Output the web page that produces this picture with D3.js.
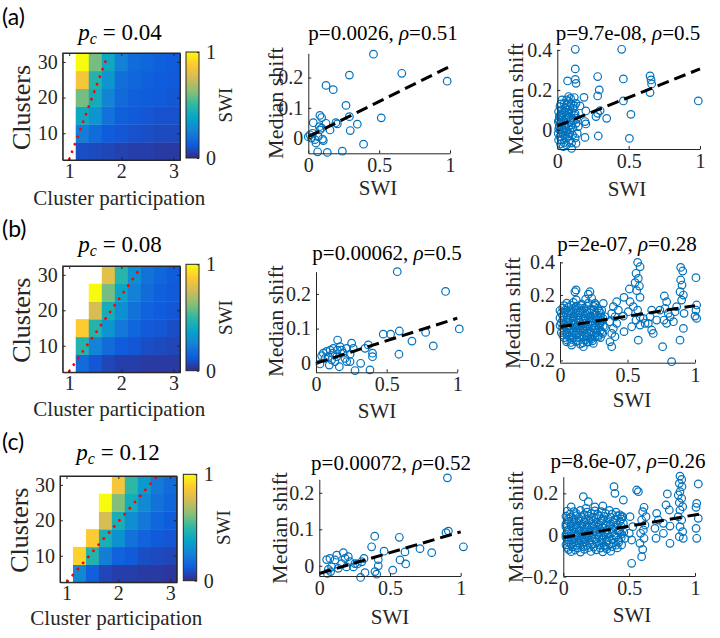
<!DOCTYPE html>
<html><head><meta charset="utf-8">
<script src="https://cdn.jsdelivr.net/npm/d3@7"></script>
<style>body{margin:0;background:#fff} svg{display:block;font-family:'Liberation Serif','Times New Roman',serif}</style>
</head><body>
<svg id="fig" width="720" height="638"></svg>
<script>
// ---------------- DATA ----------------
const participation = [1, 1.25, 1.5, 1.75, 2, 2.25, 2.5, 2.75, 3];
const clusters = [5, 10, 15, 20, 25, 30];
const heatXTicks = [1, 2, 3];
const heatYTicks = [10, 20, 30];
const colorbarTicks = [0, 1];
const parulaStops = ["#352A87","#0F5CDD","#1481D6","#06A4CA","#2EB7A4","#87BF77","#D1BB59","#FEC832","#F9FB0E"];

// rows: clusters 5..30, cols: participation 1..3 (null = no value)
const swiA = [
  [null,0.09,0.08,0.07,0.06,0.05,0.05,0.04,0.04],
  [null,0.24,0.18,0.13,0.11,0.10,0.09,0.08,0.08],
  [null,0.40,0.32,0.20,0.14,0.12,0.11,0.10,0.10],
  [null,0.60,0.42,0.26,0.17,0.14,0.13,0.12,0.11],
  [null,0.85,0.47,0.32,0.19,0.16,0.14,0.13,0.12],
  [null,1.00,0.60,0.40,0.25,0.18,0.16,0.14,0.13]
];
const swiB = [
  [null,0.18,0.11,0.07,0.05,0.05,0.04,0.04,0.04],
  [null,0.47,0.26,0.18,0.13,0.11,0.09,0.08,0.07],
  [null,0.88,0.47,0.32,0.22,0.16,0.12,0.11,0.09],
  [null,null,0.77,0.43,0.30,0.20,0.15,0.13,0.11],
  [null,null,1.00,0.60,0.38,0.25,0.18,0.14,0.12],
  [null,null,null,0.80,0.48,0.30,0.20,0.16,0.13]
];
const swiC = [
  [null,0.27,0.14,0.07,0.05,0.05,0.04,0.04,0.03],
  [null,0.90,0.47,0.24,0.15,0.12,0.09,0.08,0.07],
  [null,null,0.88,0.44,0.31,0.20,0.15,0.12,0.11],
  [null,null,null,0.77,0.44,0.30,0.22,0.16,0.13],
  [null,null,null,1.00,0.62,0.42,0.28,0.20,0.16],
  [null,null,null,null,0.85,0.50,0.34,0.23,0.18]
];
// boundary (red dotted) endpoints [participation, clusters]
const boundA = [[1.0, 2.7], [1.72, 31.1]];
const boundB = [[1.0, 2.8], [2.32, 31.0]];
const boundC = [[1.02, 2.8], [2.73, 32.2]];
const pcLabels = ["0.04", "0.08", "0.12"];

// scatter data [SWI, median shift]
const ptsA2 = [[0.46,0.277],[0.66,0.214],[0.98,0.188],[0.29,0.208],[0.125,0.174],[0.176,0.16],[0.266,0.108],[0.29,0.071],[0.515,0.067],[0.346,0.046],[0.296,0.025],[0.39,-0.02],[0.24,-0.043],[0.134,-0.047],[0.066,-0.045],[0.082,0.075],[0.094,0.068],[0.035,0.051],[0.125,0.049],[0.195,0.051],[0.205,0.047],[0.153,0.027],[0.078,0.038],[0.082,0.027],[0.012,0.011],[0.024,0.0],[0.047,-0.005],[0.1,-0.003],[0.106,-0.008],[0.054,-0.016],[0.03,0.016],[0.07,0.005],[0.0,0.005],[0.094,0.033]];
const fitA2 = [[0, 0.005], [1, 0.237]];
const ptsA3 = [[0.126,0.403],[0.451,0.403],[0.126,0.305],[0.126,0.253],[0.131,0.233],[0.072,0.245],[0.283,0.267],[0.463,0.255],[0.65,0.27],[0.657,0.25],[0.661,0.23],[0.65,0.187],[0.294,0.2],[0.283,0.17],[0.187,0.163],[0.119,0.162],[0.463,0.145],[0.988,0.145],[0.2,0.095],[0.283,0.083],[0.3,0.097],[0.346,0.058],[0.516,0.078],[0.271,0.067],[0.194,0.042],[0.2,0.03],[0.131,0.033],[0.194,-0.037],[0.287,-0.03],[0.505,-0.042],[0.131,-0.067],[0.1,-0.092],[0.042,-0.083],
 [0.019,0.117],[0.03,0.1],[0.042,0.083],[0.054,0.108],[0.065,0.125],[0.077,0.142],[0.089,0.117],[0.1,0.092],[0.084,0.067],[0.061,0.058],[0.037,0.05],[0.019,0.033],[0.014,0.017],[0.019,0.0],[0.007,-0.017],[0.019,-0.033],[0.03,-0.05],[0.047,-0.063],[0.065,-0.042],[0.077,-0.017],[0.089,0.0],[0.1,0.025],[0.112,0.05],[0.117,0.075],[0.089,0.042],[0.054,0.025],[0.042,0.0],[0.061,-0.008],[0.079,0.017],[0.014,0.067],[0.009,0.092],[0.023,0.075],[0.049,0.133],[0.072,0.1],[0.096,0.133],[0.112,0.108],[0.124,0.083],[0.136,0.058],[0.147,0.017],[0.14,-0.017],[0.107,-0.025],[0.089,-0.05],[0.065,-0.075],[0.023,-0.07],[0.009,-0.05],[0.042,-0.025],[0.007,0.042],[0.033,0.15],[0.065,0.15],[0.093,0.158],[0.131,0.133],[0.159,0.12],[0.079,0.167],
 [0.01,0.005],[0.03,0.02],[0.05,0.035],[0.07,0.06],[0.03,0.065],[0.05,0.09],[0.08,0.085],[0.1,0.06],[0.12,0.12],[0.06,0.01],[0.035,-0.01],[0.055,-0.03],[0.08,-0.03],[0.1,-0.065],[0.012,0.05],[0.025,0.13],[0.045,0.045],[0.065,0.075],[0.11,0.01],[0.125,-0.04]];
const fitA3 = [[0, 0.02], [1, 0.305]];
const ptsB2 = [[0.575,0.264],[0.917,0.207],[1.014,0.099],[0.476,0.084],[0.528,0.084],[0.59,0.093],[0.776,0.089],[0.679,0.064],[0.83,0.05],[0.587,0.026],[0.4,0.029],[0.4,0.019],[0.37,0.053],[0.347,0.043],[0.382,-0.019],[0.316,0.0],[0.276,-0.021],[0.264,0.043],[0.252,0.058],[0.241,0.026],[0.153,0.067],[0.17,0.048],[0.217,0.043],[0.193,0.029],[0.146,0.019],[0.165,-0.01],[0.1,0.038],[0.111,0.01],[0.075,0.034],[0.052,0.029],[0.04,0.022],[0.028,-0.002],[0.118,0.029],[0.134,0.005],[0.205,0.014],[0.217,0.005],[0.241,0.005],[0.182,0.038],[0.087,0.019],[0.123,0.043],[0.064,0.014],[0.094,-0.005],[0.151,0.038]];
const fitB2 = [[0, 0.0], [1, 0.13]];
const ptsB3 = [[0.575,0.4],[0.593,0.373],[0.563,0.333],[0.58,0.302],[0.556,0.276],[0.588,0.255],[0.568,0.227],[0.593,0.186],[0.514,0.237],[0.474,0.186],[0.519,0.159],[0.543,0.129],[0.575,0.108],[0.593,0.067],[0.563,0.047],[0.593,0.016],[0.531,0.006],[0.58,-0.076],[0.474,-0.024],[0.469,0.071],[0.506,0.098],[0.679,0.108],[0.667,0.067],[0.654,0.027],[0.679,-0.014],[0.691,-0.035],[0.773,0.194],[0.79,0.159],[0.778,0.118],[0.802,0.088],[0.77,0.047],[0.79,0.027],[0.76,-0.116],[0.827,-0.208],[0.815,0.067],[0.84,0.037],[0.894,0.369],[0.909,0.347],[0.894,0.292],[0.904,0.261],[0.889,0.22],[0.914,0.2],[0.901,0.169],[0.889,-0.076],[0.914,-0.004],[0.919,0.088],[1.007,0.306],[1.012,0.139],[1.007,0.108],[1.0,0.071],[1.012,0.057],[0.864,0.129],[0.852,0.098],[0.716,0.047],[0.74,0.108],[0.617,0.057],[0.63,0.027],
 [0.42,0.159],[0.395,0.129],[0.432,0.108],[0.383,0.088],[0.407,0.067],[0.37,0.037],[0.42,0.027],[0.395,-0.004],[0.383,-0.035],[0.407,-0.055],[0.37,-0.086],[0.383,-0.116],[0.321,0.149],[0.309,0.108],[0.333,0.067],[0.296,0.027],[0.316,-0.035],[0.284,-0.055],[0.222,0.22],[0.235,0.18],[0.259,0.149],[0.119,0.231],[0.173,-0.116],[0.247,-0.096],[0.198,-0.086],[0.086,-0.106],[0.049,-0.086],[0.11,0.22],[0.21,0.205],
 [0.05,0.15],[0.1,0.155],[0.16,0.145],[0.21,0.15],[0.26,0.14],[0.02,0.12],[0.06,0.125],[0.1,0.118],[0.14,0.122],[0.18,0.12],[0.23,0.115],[0.28,0.12],[0.01,0.09],[0.04,0.095],[0.08,0.088],[0.12,0.092],[0.15,0.09],[0.19,0.085],[0.22,0.093],[0.26,0.088],[0.3,0.09],[0.0,0.06],[0.03,0.065],[0.07,0.058],[0.1,0.062],[0.13,0.06],[0.17,0.055],[0.21,0.063],[0.24,0.058],[0.28,0.06],[0.32,0.055],[0.01,0.03],[0.05,0.035],[0.08,0.028],[0.12,0.032],[0.15,0.03],[0.18,0.025],[0.22,0.033],[0.26,0.028],[0.3,0.03],[0.02,0.0],[0.04,0.005],[0.07,-0.003],[0.11,0.002],[0.14,0.0],[0.17,-0.005],[0.2,0.004],[0.25,-0.002],[0.29,0.0],[0.33,0.003],[0.01,-0.03],[0.05,-0.028],[0.09,-0.033],[0.13,-0.03],[0.16,-0.025],[0.2,-0.032],[0.23,-0.028],[0.27,-0.03],[0.31,-0.027],[0.03,-0.06],[0.07,-0.058],[0.1,-0.063],[0.14,-0.06],[0.18,-0.055],[0.22,-0.062],[0.26,-0.058],[0.08,-0.09],[0.12,-0.085],[0.17,-0.092],[0.21,-0.088],[0.12,0.17],[0.19,0.175],[0.15,-0.1],[0.24,-0.08],[0.3,-0.06],
 [0.03,0.135],[0.08,0.138],[0.12,0.132],[0.16,0.136],[0.2,0.133],[0.25,0.13],
 [0.0,0.105],[0.04,0.108],[0.08,0.102],[0.12,0.106],[0.16,0.104],[0.2,0.1],[0.25,0.107],[0.29,0.103],
 [0.02,0.075],[0.06,0.078],[0.1,0.072],[0.14,0.076],[0.18,0.074],[0.22,0.07],[0.26,0.077],[0.3,0.073],
 [0.02,0.045],[0.06,0.048],[0.1,0.042],[0.14,0.046],[0.19,0.044],[0.23,0.04],[0.27,0.047],[0.31,0.043],
 [0.0,0.015],[0.03,0.018],[0.06,0.012],[0.1,0.016],[0.13,0.014],[0.17,0.01],[0.21,0.017],[0.24,0.013],[0.28,0.015],[0.32,0.011],
 [0.03,-0.015],[0.07,-0.012],[0.1,-0.018],[0.15,-0.014],[0.18,-0.016],[0.22,-0.02],[0.26,-0.013],[0.3,-0.017],
 [0.02,-0.045],[0.05,-0.042],[0.09,-0.048],[0.12,-0.044],[0.16,-0.046],[0.2,-0.05],[0.24,-0.043],[0.28,-0.047],
 [0.05,-0.075],[0.09,-0.072],[0.13,-0.078],[0.19,-0.074],[0.23,-0.07]];
const fitB3 = [[0, 0.006], [1, 0.135]];
const ptsC2 = [[0.906,0.241],[0.896,0.091],[0.913,0.095],[1.019,0.052],[0.795,0.036],[0.712,0.047],[0.566,0.078],[0.606,0.038],[0.571,0.016],[0.611,0.005],[0.519,-0.012],[0.458,0.04],[0.392,0.081],[0.37,0.052],[0.417,0.017],[0.417,0.0],[0.394,-0.016],[0.406,-0.023],[0.316,0.02],[0.3,0.011],[0.323,-0.019],[0.292,-0.032],[0.269,0.005],[0.241,-0.003],[0.252,0.006],[0.205,0.025],[0.217,0.011],[0.17,0.036],[0.182,0.02],[0.158,0.006],[0.193,-0.003],[0.123,0.029],[0.111,0.016],[0.134,-0.007],[0.075,0.02],[0.064,-0.01],[0.087,-0.003],[0.052,0.017],[0.057,-0.021],[0.08,-0.016]];
const fitC2 = [[0, -0.021], [1, 0.093]];
const ptsC3 = [[0.886,0.283],[0.899,0.267],[0.881,0.248],[0.901,0.232],[0.886,0.208],[0.873,0.192],[0.899,0.176],[0.881,0.155],[0.906,0.136],[0.886,0.12],[0.873,0.088],[0.899,0.072],[0.886,0.04],[0.906,0.016],[0.881,-0.008],[0.911,-0.016],[1.025,0.245],[1.013,0.152],[1.008,0.133],[1.025,0.08],[1.008,0.032],[1.013,-0.016],[0.79,0.197],[0.78,0.144],[0.805,0.12],[0.709,0.104],[0.722,0.072],[0.76,0.056],[0.81,0.043],[0.696,0.032],[0.76,0.008],[0.81,-0.04],[0.704,-0.016],[0.613,0.133],[0.603,0.112],[0.628,0.088],[0.595,0.072],[0.62,0.048],[0.608,0.024],[0.587,0.008],[0.613,-0.016],[0.582,-0.04],[0.603,-0.069],[0.595,-0.104],[0.557,0.216],[0.57,0.208],[0.519,-0.136],[0.456,0.168],[0.385,0.232],[0.392,0.2],[0.506,0.088],[0.527,0.04],[0.501,0.008],[0.519,-0.024],[0.443,0.088],[0.456,0.056],[0.43,0.016],[0.468,-0.016],[0.443,-0.048],[0.152,0.184],[0.19,0.16],[0.172,0.128],[0.06,0.135],[0.3,0.14],[0.24,0.135],
 [0.03,0.115],[0.08,0.112],[0.13,0.118],[0.18,0.11],[0.24,0.116],[0.29,0.112],[0.35,0.118],[0.4,0.11],
 [0.02,0.09],[0.06,0.087],[0.1,0.093],[0.14,0.088],[0.19,0.091],[0.23,0.086],[0.27,0.092],[0.31,0.089],[0.36,0.085],[0.41,0.092],[0.45,0.088],
 [0.04,0.065],[0.08,0.062],[0.12,0.068],[0.16,0.063],[0.2,0.066],[0.25,0.061],[0.29,0.067],[0.33,0.064],[0.38,0.06],[0.43,0.066],
 [0.02,0.04],[0.06,0.043],[0.1,0.037],[0.14,0.041],[0.18,0.038],[0.22,0.043],[0.26,0.039],[0.3,0.036],[0.35,0.042],[0.39,0.038],[0.44,0.041],
 [0.04,0.015],[0.08,0.012],[0.12,0.018],[0.16,0.014],[0.2,0.011],[0.24,0.017],[0.28,0.013],[0.32,0.016],[0.37,0.012],[0.42,0.018],[0.46,0.014],
 [0.02,-0.01],[0.06,-0.013],[0.1,-0.008],[0.14,-0.012],[0.18,-0.009],[0.22,-0.014],[0.27,-0.01],[0.31,-0.007],[0.35,-0.012],[0.4,-0.009],[0.44,-0.013],
 [0.04,-0.035],[0.08,-0.032],[0.12,-0.038],[0.16,-0.034],[0.2,-0.037],[0.25,-0.033],[0.29,-0.036],[0.33,-0.032],[0.38,-0.038],[0.42,-0.035],
 [0.03,-0.06],[0.07,-0.058],[0.11,-0.062],[0.15,-0.057],[0.19,-0.061],[0.23,-0.058],[0.28,-0.063],[0.32,-0.059],[0.37,-0.056],[0.41,-0.062],
 [0.06,-0.08],[0.13,-0.082],[0.21,-0.079],[0.3,-0.081],[0.36,-0.078],
 [0.05,0.1],[0.1,0.103],[0.16,0.098],[0.21,0.102],[0.26,0.099],[0.32,0.104],[0.37,0.1],[0.43,0.097],
 [0.04,0.077],[0.08,0.074],[0.12,0.079],[0.17,0.076],[0.21,0.073],[0.25,0.078],[0.3,0.075],[0.34,0.079],[0.39,0.074],[0.44,0.077],
 [0.02,0.052],[0.06,0.055],[0.1,0.05],[0.14,0.053],[0.18,0.049],[0.23,0.054],[0.27,0.051],[0.32,0.048],[0.36,0.053],[0.41,0.05],
 [0.04,0.027],[0.08,0.03],[0.12,0.025],[0.16,0.028],[0.2,0.024],[0.24,0.029],[0.28,0.026],[0.33,0.023],[0.37,0.028],[0.42,0.025],
 [0.02,0.002],[0.06,0.005],[0.1,0.0],[0.14,0.003],[0.18,-0.001],[0.22,0.004],[0.26,0.001],[0.3,-0.002],[0.34,0.003],[0.39,0.0],[0.44,0.004],
 [0.04,-0.022],[0.08,-0.019],[0.12,-0.024],[0.16,-0.021],[0.2,-0.025],[0.24,-0.02],[0.29,-0.023],[0.33,-0.026],[0.37,-0.021],[0.42,-0.024],
 [0.02,-0.047],[0.06,-0.044],[0.1,-0.049],[0.14,-0.046],[0.18,-0.05],[0.22,-0.045],[0.27,-0.048],[0.31,-0.051],[0.35,-0.046],[0.4,-0.049],
 [0.04,-0.07],[0.09,-0.072],[0.16,-0.069],[0.25,-0.071],[0.33,-0.068]];
const fitC3 = [[0, -0.012], [1.03, 0.1]];

const titlesScatter = [
  ["p=0.0026, ", "=0.51"], ["p=9.7e-08, ", "=0.5"],
  ["p=0.00062, ", "=0.5"], ["p=2e-07, ", "=0.28"],
  ["p=0.00072, ", "=0.52"], ["p=8.6e-07, ", "=0.26"]
];
const xTicksS = [0, 0.5, 1];
const yTicksSmall = [0, 0.1, 0.2];
const yTicksLarge = [-0.2, 0, 0.2, 0.4];

// ---------------- DRAWING ----------------
const svg = d3.select("#fig");
const SERIF = "'Liberation Serif','Times New Roman',serif";
const AX = "#262626";
const parula = d3.piecewise(d3.interpolateRgb, parulaStops);
const fmt = d3.format("");

function styleAxis(sel, fs) {
  sel.attr("font-family", SERIF).attr("font-size", fs);
  sel.selectAll("path.domain").attr("stroke", AX).attr("stroke-width", 1);
  sel.selectAll(".tick line").attr("stroke", AX);
  sel.selectAll("text").attr("font-family", SERIF).attr("font-size", fs).attr("fill", AX);
}

function heatmap(L, vals, bound, pc, label, key) {
  const x = d3.scaleLinear().domain([0.875, 3.125]).range([L.x0, L.x1]);
  const y = d3.scaleLinear().domain([2.5, 32.5]).range([L.y1, L.y0]);
  const g = svg.append("g");
  const cw = x(0.25) - x(0), ch = y(0) - y(5);
  clusters.forEach((c, i) => participation.forEach((p, j) => {
    const v = vals[i][j];
    if (v === null) return;
    g.append("rect").attr("x", x(p - 0.125)).attr("y", y(c + 2.5))
      .attr("width", cw + 0.4).attr("height", ch + 0.4).attr("fill", parula(v));
  }));
  g.append("line").attr("x1", x(bound[0][0])).attr("y1", y(bound[0][1]))
    .attr("x2", x(bound[1][0])).attr("y2", y(bound[1][1]))
    .attr("stroke", "#ff0000").attr("stroke-width", 2.8).attr("stroke-linecap", "round")
    .attr("stroke-dasharray", "0.1 7.9");
  g.append("rect").attr("x", L.x0).attr("y", L.y0).attr("width", L.x1 - L.x0).attr("height", L.y1 - L.y0)
    .attr("fill", "none").attr("stroke", AX).attr("stroke-width", 1);
  const bx = g.append("g").attr("transform", `translate(0,${L.y1})`)
    .call(d3.axisBottom(x).tickValues(heatXTicks).tickFormat(fmt).tickSizeInner(-3).tickSizeOuter(0).tickPadding(4));
  styleAxis(bx, 20);
  const tx = g.append("g").attr("transform", `translate(0,${L.y0})`)
    .call(d3.axisTop(x).tickValues(heatXTicks).tickSizeInner(-3).tickSizeOuter(0).tickFormat(""));
  styleAxis(tx, 19);
  const ly = g.append("g").attr("transform", `translate(${L.x0},0)`)
    .call(d3.axisLeft(y).tickValues(heatYTicks).tickFormat(fmt).tickSizeInner(-3).tickSizeOuter(0).tickPadding(5));
  styleAxis(ly, 20);
  const ry = g.append("g").attr("transform", `translate(${L.x1},0)`)
    .call(d3.axisRight(y).tickValues(heatYTicks).tickSizeInner(-3).tickSizeOuter(0).tickFormat(""));
  styleAxis(ry, 19);
  // colorbar
  const gid = "grad" + key;
  const grad = svg.append("defs").append("linearGradient").attr("id", gid)
    .attr("x1", "0").attr("y1", "1").attr("x2", "0").attr("y2", "0");
  parulaStops.forEach((c, i) => grad.append("stop").attr("offset", i / (parulaStops.length - 1)).attr("stop-color", c));
  const cy = d3.scaleLinear().domain([0, 1]).range([L.cy1, L.cy0]);
  g.append("rect").attr("x", L.cx0).attr("y", L.cy0).attr("width", L.cx1 - L.cx0).attr("height", L.cy1 - L.cy0)
    .attr("fill", `url(#${gid})`).attr("stroke", AX).attr("stroke-width", 1);
  const cb = g.append("g").attr("transform", `translate(${L.cx1},0)`)
    .call(d3.axisRight(cy).tickValues(colorbarTicks).tickFormat(fmt).tickSizeInner(-2).tickSizeOuter(0).tickPadding(7));
  cb.select("path.domain").remove();
  styleAxis(cb, 20);
  g.append("text").attr("transform", `translate(${L.cx1 + 33},${(L.cy0 + L.cy1) / 2}) rotate(-90)`)
    .attr("text-anchor", "middle").attr("font-family", SERIF).attr("font-size", 19).attr("fill", AX).text("SWI");
  // title
  const t = g.append("text").attr("x", L.tx).attr("y", L.ty).attr("text-anchor", "middle")
    .attr("font-family", SERIF).attr("font-size", 23).attr("fill", "#000");
  t.append("tspan").attr("font-style", "italic").text("p");
  t.append("tspan").attr("font-style", "italic").attr("font-size", 16).attr("dy", 4).text("c");
  t.append("tspan").attr("dy", -4).text(" = " + pc);
  // axis labels
  g.append("text").attr("transform", `translate(${L.clx},${(L.y0 + L.y1) / 2 + 1}) rotate(-90)`)
    .attr("text-anchor", "middle").attr("font-family", SERIF).attr("font-size", 26).attr("fill", AX).text("Clusters");
  g.append("text").attr("x", (L.x0 + L.x1) / 2 - 2).attr("y", L.cpy).attr("text-anchor", "middle")
    .attr("font-family", SERIF).attr("font-size", 21).attr("fill", AX).text("Cluster participation");
  // panel letter
  svg.append("text").attr("x", 2).attr("y", L.ly).attr("font-family", "Lato,'Open Sans',sans-serif")
    .attr("font-size", 23).attr("fill", "#000").text(label);
}

function scatter(L, pts, fit, ydom, yticks, title) {
  const x = d3.scaleLinear().domain([0, 1]).range([L.x0, L.x1]);
  const y = d3.scaleLinear().domain(ydom).range([L.y1, L.y0]);
  const g = svg.append("g");
  g.selectAll("circle").data(pts).join("circle")
    .attr("cx", d => x(d[0])).attr("cy", d => y(d[1])).attr("r", 3.8)
    .attr("fill", "none").attr("stroke", "#0072BD").attr("stroke-width", 1.2);
  g.append("line").attr("x1", x(fit[0][0])).attr("y1", y(fit[0][1]))
    .attr("x2", x(fit[1][0])).attr("y2", y(fit[1][1]))
    .attr("stroke", "#000").attr("stroke-width", 3).attr("stroke-dasharray", "12 6");
  const bx = g.append("g").attr("transform", `translate(0,${L.y1})`)
    .call(d3.axisBottom(x).tickValues(xTicksS).tickFormat(fmt).tickSizeInner(-3).tickSizeOuter(0).tickPadding(5));
  styleAxis(bx, 20);
  const ly = g.append("g").attr("transform", `translate(${L.x0},0)`)
    .call(d3.axisLeft(y).tickValues(yticks).tickFormat(fmt).tickSizeInner(-3).tickSizeOuter(0).tickPadding(5));
  styleAxis(ly, 20);
  const t = g.append("text").attr("x", L.tx).attr("y", L.ty).attr("text-anchor", "middle")
    .attr("font-family", SERIF).attr("font-size", 21).attr("fill", "#000");
  t.append("tspan").text(title[0]);
  t.append("tspan").attr("font-style", "italic").text("ρ");
  t.append("tspan").text(title[1]);
  g.append("text").attr("transform", `translate(${L.mx},${L.my}) rotate(-90)`)
    .attr("text-anchor", "middle").attr("font-family", SERIF).attr("font-size", 22).attr("fill", AX).text("Median shift");
  g.append("text").attr("x", L.sx).attr("y", L.sy).attr("text-anchor", "middle")
    .attr("font-family", SERIF).attr("font-size", 21).attr("fill", AX).text("SWI");
}

// layouts
heatmap({x0:62.7,x1:180,y0:53,y1:160,cx0:186,cx1:199,cy0:52,cy1:158,tx:120,ty:40,clx:30,cpy:205,ly:25}, swiA, boundA, pcLabels[0], "(a)", "A");
heatmap({x0:62.7,x1:180,y0:266,y1:372.3,cx0:186,cx1:199,cy0:264.3,cy1:370.7,tx:120,ty:252,clx:30,cpy:416,ly:237}, swiB, boundB, pcLabels[1], "(b)", "B");
heatmap({x0:60,x1:176.7,y0:476,y1:582.3,cx0:183.3,cx1:196.7,cy0:474.3,cy1:580.7,tx:118,ty:460,clx:28,cpy:625,ly:450}, swiC, boundC, pcLabels[2], "(c)", "C");

scatter({x0:308.3,x1:450,y0:53.3,y1:153.3,tx:383,ty:40,mx:283,my:103,sx:378,sy:195}, ptsA2, fitA2, [-0.05,0.28], yTicksSmall, titlesScatter[0]);
scatter({x0:557.3,x1:700,y0:49.3,y1:149,tx:628,ty:40,mx:523,my:99,sx:627,sy:196}, ptsA3, fitA3, [-0.095,0.403], [0,0.2,0.4], titlesScatter[1]);
scatter({x0:316,x1:457.3,y0:271.7,y1:372.3,tx:387,ty:260,mx:283,my:321,sx:377,sy:418}, ptsB2, fitB2, [-0.026,0.264], yTicksSmall, titlesScatter[2]);
scatter({x0:560,x1:695,y0:261.7,y1:362.7,tx:627,ty:251,mx:520,my:313,sx:632,sy:407}, ptsB3, fitB3, [-0.214,0.404], yTicksLarge, titlesScatter[3]);
scatter({x0:319.3,x1:460.7,y0:479.3,y1:576,tx:391,ty:470,mx:287,my:528,sx:390,sy:624}, ptsC2, fitC2, [-0.028,0.237], yTicksSmall, titlesScatter[4]);
scatter({x0:563.3,x1:695,y0:476.7,y1:576,tx:628,ty:468,mx:523,my:527,sx:632,sy:622}, ptsC3, fitC3, [-0.197,0.28], [-0.2,0,0.2], titlesScatter[5]);
</script>
</body></html>
